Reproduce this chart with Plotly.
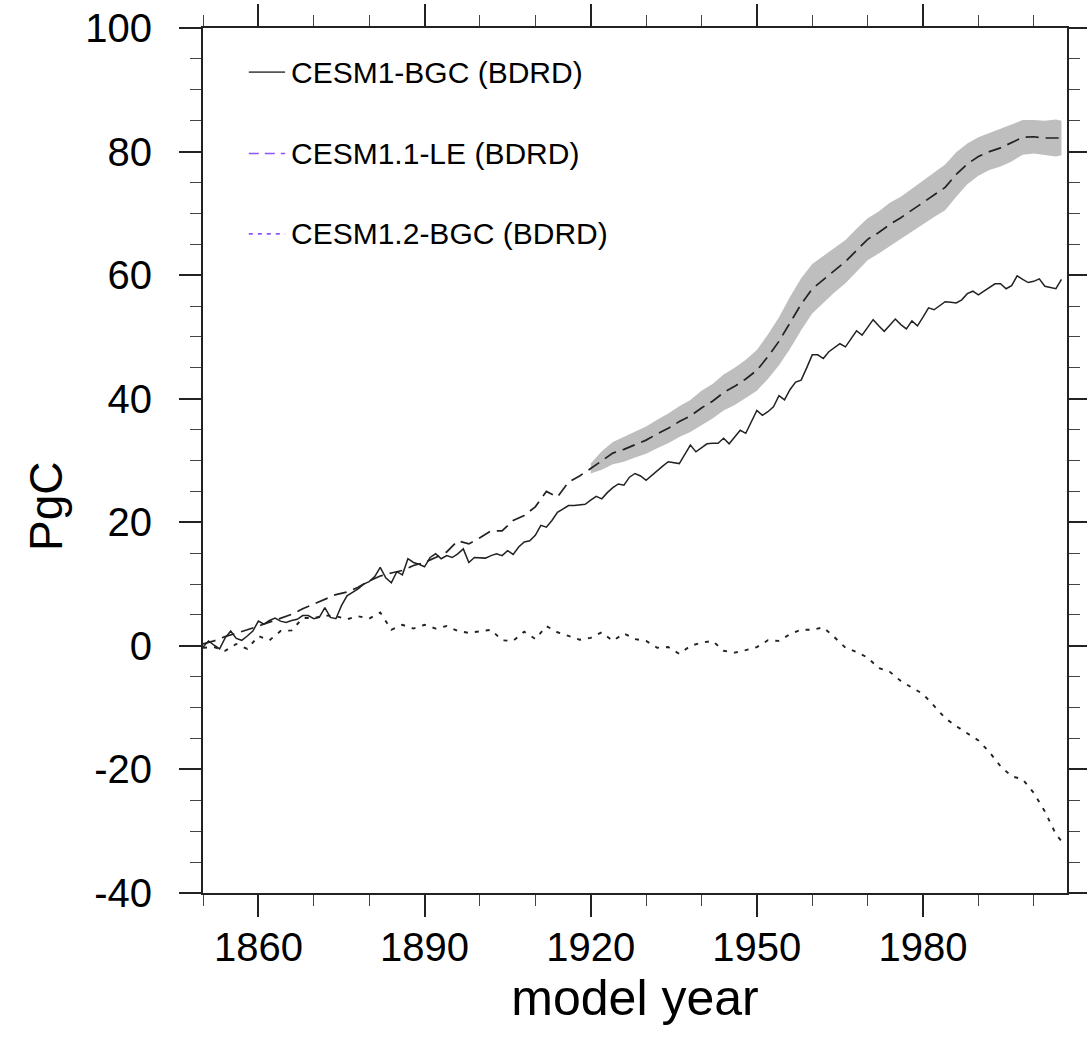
import plotly.graph_objects as go

# ---------------- data ----------------
bgc_years = list(range(1850, 2006))
bgc_vals = [
    -0.2, 0.8, 0.1, -0.5, 1.3, 2.4, 1.2, 0.9, 1.6, 2.4,      # 1850-1859
    4.0, 3.5, 4.1, 4.5, 4.0, 3.8, 4.1, 4.3, 4.9, 4.9,        # 1860-1869
    4.4, 4.6, 6.2, 4.6, 4.4, 6.5, 8.1, 8.6, 9.2, 10.0,       # 1870-1879
    10.4, 11.2, 12.7, 11.0, 10.2, 12.0, 11.5, 14.1, 13.5, 13.2,  # 1880-1889
    12.8, 14.3, 14.9, 14.1, 14.6, 14.3, 14.9, 15.7, 13.5, 14.3,  # 1890-1899
    14.3, 14.2, 14.6, 14.9, 14.6, 15.4, 14.8, 16.0, 16.8, 17.0,  # 1900-1909
    17.9, 19.5, 19.2, 20.3, 21.6, 22.2, 22.7, 22.7, 22.8, 22.9,  # 1910-1919
    23.6, 24.2, 23.8, 24.8, 25.6, 26.2, 26.0, 27.3, 27.9, 27.5,  # 1920-1929
    26.8, 27.6, 28.4, 29.1, 29.8, 29.6, 29.5, 31.0, 32.5, 31.4,  # 1930-1939
    32.0, 32.7, 32.8, 32.8, 33.6, 32.7, 33.8, 34.9, 34.4, 36.3,  # 1940-1949
    38.1, 37.3, 37.9, 38.7, 40.5, 39.8, 41.5, 42.7, 43.0, 45.0,  # 1950-1959
    47.1, 47.1, 46.5, 47.6, 48.2, 48.9, 48.4, 49.6, 51.0, 50.3,  # 1960-1969
    51.5, 52.8, 51.8, 50.9, 51.9, 52.9, 52.0, 51.3, 52.6, 51.8,  # 1970-1979
    53.2, 54.7, 54.4, 55.0, 55.7, 55.6, 55.5, 56.0, 57.0, 57.4,  # 1980-1989
    56.8, 57.4, 58.0, 58.6, 58.6, 57.8, 58.3, 59.9, 59.3, 58.8,  # 1990-1999
    59.0, 59.4, 58.2, 58.0, 57.8, 59.3,                          # 2000-2005
]

le_years = list(range(1850, 2005, 2)) + [2005]
le_vals = [
    0.3, 0.8, 1.5, 2.0, 2.6, 3.2, 3.8, 4.5, 5.1, 6.0,          # 1850-1868
    6.8, 7.5, 8.3, 8.7, 9.5, 10.5, 11.3, 11.8, 12.2, 13.0,     # 1870-1888
    13.5, 14.3, 15.2, 17.0, 16.5, 17.5, 18.6, 18.6, 20.3, 21.1,  # 1890-1908
    22.5, 25.0, 24.1, 26.5, 27.5,                              # 1910-1918
    28.7, 30.0, 31.2, 31.8, 32.6, 33.3, 34.3, 35.2, 36.3, 37.2,  # 1920-1938
    38.5, 39.6, 41.0, 42.0, 43.2, 44.6, 46.8, 49.3, 52.3, 55.3,  # 1940-1958
    57.8, 59.3, 60.8, 62.2, 64.0, 65.8, 66.9, 68.2, 69.3, 70.5,  # 1960-1978
    71.7, 73.0, 74.2, 76.3, 78.0, 79.2, 80.0, 80.6, 81.4, 82.3,  # 1980-1998
    82.4, 82.2, 82.2, 82.2,                                    # 2000-2005
]

band_years = list(range(1920, 2005, 2)) + [2005]
band_lower = [
    27.9, 28.5, 29.4, 29.8, 30.5, 31.1, 32.0, 32.8, 33.8, 34.6,
    35.7, 36.8, 38.1, 39.0, 40.1, 41.3, 43.2, 45.4, 48.1, 51.1,
    53.8, 55.5, 57.2, 58.7, 60.5, 62.4, 63.5, 64.7, 65.9, 67.0,
    68.2, 69.4, 70.5, 72.7, 74.7, 76.1, 77.0, 77.6, 78.4, 79.5,
    79.7, 79.4, 79.2, 79.4,
]
band_upper = [
    29.5, 31.5, 33.0, 33.8, 34.7, 35.5, 36.6, 37.6, 38.8, 39.8,
    41.3, 42.4, 43.9, 45.0, 46.3, 47.9, 50.4, 53.2, 56.5, 59.5,
    61.8, 63.1, 64.4, 65.7, 67.5, 69.2, 70.3, 71.7, 72.7, 74.0,
    75.2, 76.6, 77.9, 79.9, 81.3, 82.3, 83.0, 83.6, 84.4, 85.1,
    85.1, 85.0, 85.2, 85.0,
]

bgc12_years = list(range(1850, 2005, 2)) + [2005]
bgc12_vals = [
    -0.3, -0.2, -0.8, 0.3, -0.5, 1.6, 0.9, 2.4, 2.5, 4.5,       # 1850-1868
    4.5, 4.9, 4.8, 4.3, 4.8, 4.4, 5.4, 2.6, 3.4, 2.8,          # 1870-1888
    3.4, 2.8, 3.2, 2.4, 2.1, 2.3, 2.6, 0.9, 0.8, 2.3,          # 1890-1908
    1.1, 3.2, 2.2, 1.6, 1.0, 1.3, 2.2, 0.8, 2.0, 1.1,          # 1910-1928
    0.8, -0.3, -0.2, -1.3, 0.0, 0.5, 0.8, -0.8, -1.1, -0.7,    # 1930-1948
    -0.2, 0.9, 0.8, 1.9, 2.6, 2.6, 3.0, 1.4, -0.3, -1.0,       # 1950-1968
    -1.9, -3.6, -4.2, -5.7, -6.8, -7.8, -9.7, -11.7, -13.0, -14.1,  # 1970-1988
    -15.3, -17.2, -19.5, -21.1, -21.6, -23.8, -26.8, -30.5, -31.6,  # 1990-2005
]

legend_names = ["CESM1-BGC (BDRD)", "CESM1.1-LE (BDRD)", "CESM1.2-BGC (BDRD)"]
x_tickvals = [1860, 1890, 1920, 1950, 1980]
y_tickvals = [-40, -20, 0, 20, 40, 60, 80, 100]

LINE = "#222222"
PURPLE = "#8f55f5"
FONT = "Liberation Sans, Arial, Helvetica, sans-serif"

fig = go.Figure()

# ensemble spread band
fig.add_trace(go.Scatter(x=band_years, y=band_lower, mode="lines",
                         line=dict(width=0, color="#bebebe"),
                         showlegend=False, hoverinfo="skip"))
fig.add_trace(go.Scatter(x=band_years, y=band_upper, mode="lines",
                         line=dict(width=0, color="#bebebe"),
                         fill="tonexty", fillcolor="#bebebe",
                         showlegend=False, hoverinfo="skip"))

fig.add_trace(go.Scatter(x=bgc_years, y=bgc_vals, mode="lines",
                         line=dict(color=LINE, width=1.5),
                         name=legend_names[0], showlegend=False))
fig.add_trace(go.Scatter(x=le_years, y=le_vals, mode="lines",
                         line=dict(color=LINE, width=1.7, dash="13px,7px"),
                         name=legend_names[1], showlegend=False))
fig.add_trace(go.Scatter(x=bgc12_years, y=bgc12_vals, mode="lines",
                         line=dict(color=LINE, width=1.9, dash="4px,7px"),
                         name=legend_names[2], showlegend=False))

# legend drawn in paper coordinates
leg_y = [0.949, 0.855, 0.762]
leg_col = ["#555555", PURPLE, PURPLE]
leg_dash = ["solid", "10px,6px", "4px,5px"]
for name, yy, col, dsh in zip(legend_names, leg_y, leg_col, leg_dash):
    fig.add_shape(type="line", xref="paper", yref="paper",
                  x0=0.053, x1=0.095, y0=yy, y1=yy,
                  line=dict(color=col, width=1.6, dash=dsh))
    fig.add_annotation(xref="paper", yref="paper", x=0.099, y=yy,
                       xanchor="left", yanchor="middle", showarrow=False,
                       text=name, font=dict(size=30, color="#000000", family=FONT))

# y-axis title (placed slightly below centre as in the original)
fig.add_annotation(xref="paper", yref="paper", x=-0.181, y=0.447,
                   xanchor="center", yanchor="middle", showarrow=False,
                   textangle=-90, text="PgC",
                   font=dict(size=46, color="#000000", family=FONT))

axis_common = dict(
    showline=True, linecolor="#222222", linewidth=2, mirror="allticks",
    ticks="outside", ticklen=22, tickwidth=1.5, tickcolor="#222222",
    showgrid=False, zeroline=False,
    tickfont=dict(size=40, color="#000000", family=FONT),
)

fig.update_xaxes(
    range=[1850, 2006], tickvals=x_tickvals, ticktext=[str(v) for v in x_tickvals],
    minor=dict(dtick=10, tick0=1850, ticks="outside", ticklen=11,
               tickwidth=1.2, tickcolor="#444444", showgrid=False),
    title=dict(text="model year", font=dict(size=50, color="#000000", family=FONT), standoff=12),
    ticklabelstandoff=-4,
    **axis_common,
)
fig.update_yaxes(
    range=[-40, 100], tickvals=y_tickvals, ticktext=[str(v) for v in y_tickvals],
    minor=dict(dtick=5, tick0=0, ticks="outside", ticklen=11,
               tickwidth=1.2, tickcolor="#444444", showgrid=False),
    ticklabelstandoff=19,
    **axis_common,
)

fig.update_layout(
    width=1087, height=1051,
    margin=dict(l=203, r=20, t=28, b=158, autoexpand=False),
    paper_bgcolor="white", plot_bgcolor="white",
    showlegend=False,
    font=dict(family=FONT),
)

fig.write_html("out.html")
